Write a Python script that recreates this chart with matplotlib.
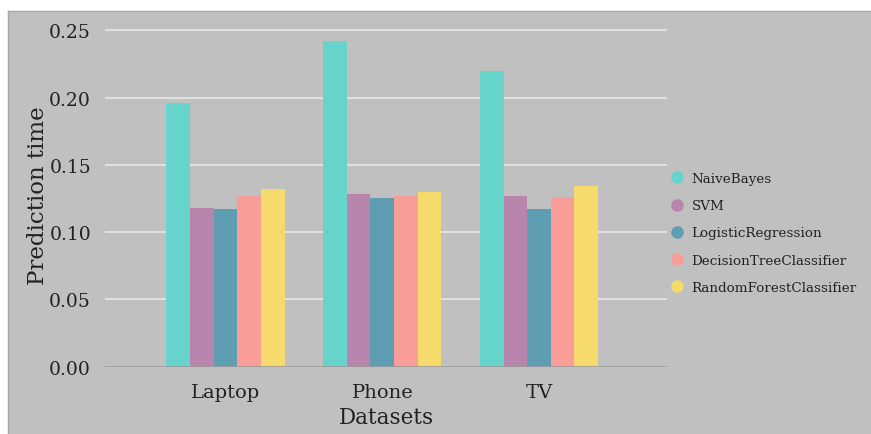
import numpy as np
import matplotlib.pyplot as plt
from matplotlib.lines import Line2D
from matplotlib.patches import Rectangle

datasets = ["Laptop", "Phone", "TV"]
models = ["NaiveBayes", "SVM", "LogisticRegression",
          "DecisionTreeClassifier", "RandomForestClassifier"]
naive_bayes = [0.196, 0.242, 0.220]
svm = [0.118, 0.128, 0.127]
logistic = [0.117, 0.125, 0.117]
decision_tree = [0.127, 0.127, 0.126]
random_forest = [0.132, 0.130, 0.134]
colors = ["#66d4ca", "#b886ac", "#5f9db2", "#f99d98", "#f6da6b"]

series = [naive_bayes, svm, logistic, decision_tree, random_forest]

bg = "#c0c0c0"
plt.rcParams['font.family'] = ['DejaVu Serif']

fig = plt.figure(figsize=(8.71, 4.35), dpi=100, facecolor=bg)
# white strips at top and left, like the cropped screenshot
fig.patches.append(Rectangle((0, 1 - 12 / 435), 1, 12 / 435, transform=fig.transFigure,
                             facecolor="white", edgecolor="none", zorder=-1))
fig.patches.append(Rectangle((0, 0), 8 / 871, 1, transform=fig.transFigure,
                             facecolor="white", edgecolor="none", zorder=-1))
fig.add_artist(Line2D([8 / 871, 1], [1 - 12 / 435] * 2, transform=fig.transFigure,
                      color="#a8a8a8", lw=1))
fig.add_artist(Line2D([8 / 871] * 2, [0, 1 - 12 / 435], transform=fig.transFigure,
                      color="#a8a8a8", lw=1))

ax = fig.add_axes([105 / 871, 1 - 367.7 / 435, (667 - 105) / 871, (367.7 - 24.5) / 435])
ax.set_facecolor(bg)

x = np.arange(len(datasets))
w = 0.151
for i, (vals, name, c) in enumerate(zip(series, models, colors)):
    ax.bar(x + (i - 2) * w, vals, width=w, color=c, label=name, zorder=3)

ax.set_ylim(0, 0.255)
ax.set_xlim(-0.77, 2.817)
ax.set_yticks([0, 0.05, 0.10, 0.15, 0.20, 0.25])
ax.set_yticklabels(["0.00", "0.05", "0.10", "0.15", "0.20", "0.25"])
ax.set_xticks(x)
ax.set_xticklabels(datasets)
ax.grid(axis="y", color="#e4e4e4", lw=1.3, zorder=0)
ax.axhline(0, color="#999999", lw=1.2, zorder=4)
for s in ax.spines.values():
    s.set_visible(False)
ax.tick_params(length=0, colors="#222222")
ax.tick_params(axis="y", pad=10, labelsize=13.5)
ax.tick_params(axis="x", pad=12, labelsize=14)

ax.set_ylabel("Prediction time", fontsize=16.5, color="#222222")
ax.yaxis.set_label_coords(-0.10, 0.5)
ax.set_xlabel("Datasets", fontsize=15.5, color="#222222", labelpad=3)

handles = [Line2D([], [], marker="o", ls="", markersize=8, color=c, label=m)
           for m, c in zip(models, colors)]
fig.legend(handles=handles, loc="center left", bbox_to_anchor=(651 / 871, 1 - 234 / 435),
           frameon=False, fontsize=9.7, handletextpad=0.1, labelspacing=1.05,
           labelcolor="#222222")

fig.savefig("out.png", dpi=100, facecolor=bg)
